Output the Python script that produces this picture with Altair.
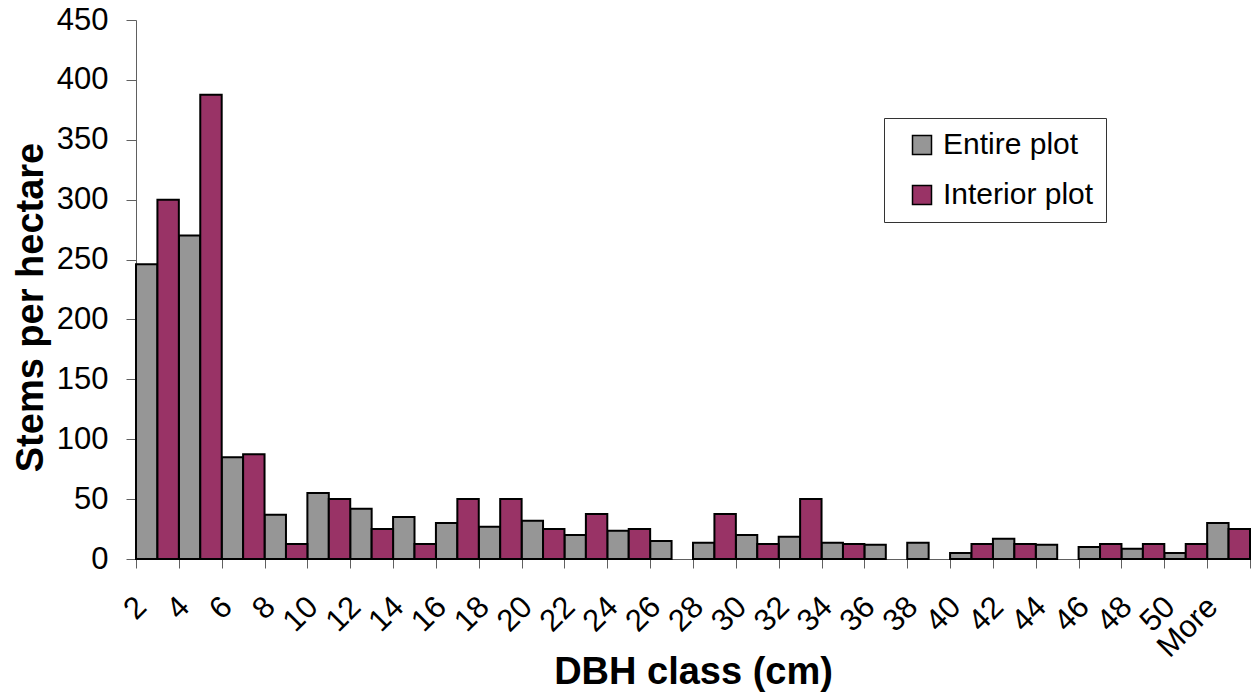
import altair as alt
import pandas as pd

# DBH classes (cm) and stem densities per hectare
classes = ["2", "4", "6", "8", "10", "12", "14", "16", "18", "20", "22", "24", "26",
           "28", "30", "32", "34", "36", "38", "40", "42", "44", "46", "48", "50", "More"]
entire_plot = [246, 270, 85, 37, 55, 42, 35, 30, 27, 32, 20, 23.5, 15,
               13.5, 20, 18.5, 13.5, 12, 13.5, 5, 17, 12, 10, 8.5, 5, 30]
interior_plot = [300, 387.5, 87.5, 12.5, 50, 25, 12.5, 50, 50, 25, 37.5, 25, None,
                 37.5, 12.5, 50, 12.5, None, None, 12.5, 12.5, None, 12.5, 12.5, 12.5, 25]
series_names = ["Entire plot", "Interior plot"]
series_colors = ["#969696", "#993366"]

rows = []
for name, values in zip(series_names, [entire_plot, interior_plot]):
    for cls, v in zip(classes, values):
        if v is not None:
            rows.append({"dbh": cls, "series": name, "stems": v})
df = pd.DataFrame(rows)

FONT = "Liberation Sans"

chart = alt.Chart(df).mark_bar(stroke="black", strokeWidth=2).encode(
    x=alt.X(
        "dbh:N",
        sort=classes,
        scale=alt.Scale(domain=classes, paddingInner=0, paddingOuter=0),
        axis=alt.Axis(
            title="DBH class (cm)",
            titleFontSize=38,
            titleFontWeight="bold",
            titleFont=FONT,
            titleY=124,
            titleBaseline="alphabetic",
            labelFont=FONT,
            labelFontSize=31,
            labelAngle=-45,
            labelAlign="right",
            labelBaseline="middle",
            labelPadding=34,
            labelOffset=-16,
            labelColor="black",
            tickBand="extent",
            tickSize=9,
            tickColor="#606060",
            domainColor="#606060",
            labelOverlap=False,
        ),
    ),
    xOffset=alt.XOffset("series:N", sort=series_names,
                        scale=alt.Scale(paddingInner=0, paddingOuter=0)),
    y=alt.Y(
        "stems:Q",
        scale=alt.Scale(domain=[0, 450], nice=False),
        axis=alt.Axis(
            title="Stems per hectare",
            values=list(range(0, 451, 50)),
            titleFontSize=38,
            titleFontWeight="bold",
            titleFont=FONT,
            titleX=-94,
            titleY=287,
            titleAlign="center",
            titleBaseline="alphabetic",
            labelFont=FONT,
            labelFontSize=31,
            labelPadding=18,
            labelColor="black",
            tickSize=10,
            tickColor="#606060",
            domainColor="#606060",
            grid=False,
        ),
    ),
    color=alt.Color(
        "series:N",
        sort=series_names,
        scale=alt.Scale(domain=series_names, range=series_colors),
        legend=alt.Legend(
            title=None,
            orient="none",
            legendX=748,
            legendY=98,
            strokeColor="#333333",
            fillColor="white",
            padding=12,
            symbolType="square",
            symbolSize=361,
            symbolStrokeColor="black",
            symbolStrokeWidth=1.5,
            symbolOffset=11,
            labelFont=FONT,
            labelFontSize=30,
            labelColor="black",
            labelOffset=6,
            rowPadding=20,
        ),
    ),
).properties(
    width=1114,
    height=539,
    padding={"left": 136, "top": 20, "right": 4, "bottom": 133},
    autosize=alt.AutoSizeParams(type="none"),
    background="white",
).configure_view(stroke=None)

chart.save("out.html", embed_options={"renderer": "svg", "actions": False})
